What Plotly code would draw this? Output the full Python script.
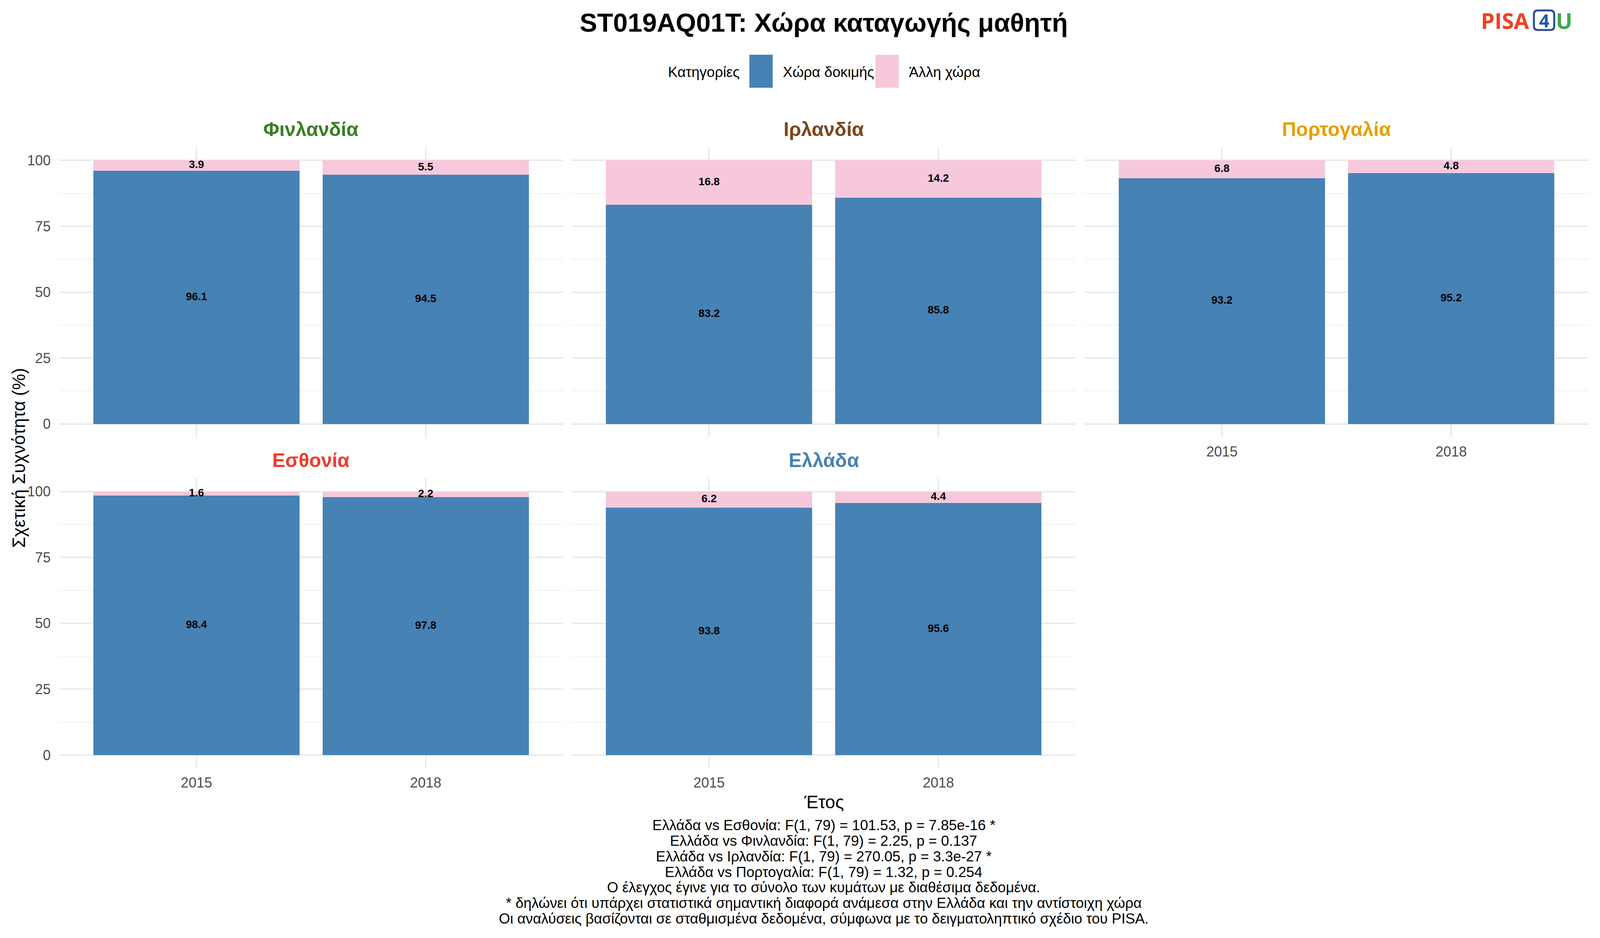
import plotly.graph_objects as go

# Data
countries = ["Φινλανδία", "Ιρλανδία", "Πορτογαλία", "Εσθονία", "Ελλάδα"]
country_colors = ["#377E22", "#7B4419", "#E69F00", "#EE3B2B", "#4682B4"]
years = ["2015", "2018"]
test_country = [[96.1, 94.5], [83.2, 85.8], [93.2, 95.2], [98.4, 97.8], [93.8, 95.6]]
other_country = [[3.9, 5.5], [16.8, 14.2], [6.8, 4.8], [1.6, 2.2], [6.2, 4.4]]
categories = ["Χώρα δοκιμής", "Άλλη χώρα"]
category_colors = ["#4682B4", "#F7C8DC"]
y_ticks = [0, 25, 50, 75, 100]
y_minor = [12.5, 37.5, 62.5, 87.5]

title = "ST019AQ01T: Χώρα καταγωγής μαθητή"
legend_title = "Κατηγορίες"
x_title = "Έτος"
y_title = "Σχετική Συχνότητα (%)"
caption_lines = [
    "Ελλάδα vs Εσθονία: F(1, 79) = 101.53, p = 7.85e-16 *",
    "Ελλάδα vs Φινλανδία: F(1, 79) = 2.25, p = 0.137",
    "Ελλάδα vs Ιρλανδία: F(1, 79) = 270.05, p = 3.3e-27 *",
    "Ελλάδα vs Πορτογαλία: F(1, 79) = 1.32, p = 0.254",
    "Ο έλεγχος έγινε για το σύνολο των κυμάτων με διαθέσιμα δεδομένα.",
    "* δηλώνει ότι υπάρχει στατιστικά σημαντική διαφορά ανάμεσα στην Ελλάδα και την αντίστοιχη χώρα",
    "Οι αναλύσεις βασίζονται σε σταθμισμένα δεδομένα, σύμφωνα με το δειγματοληπτικό σχέδιο του PISA.",
]

# layout is worked out on the 4500x2400 reference and turned into paper fractions,
# the figure width follows the browser window
W, H = 4500, 2400
FONT = "Liberation Sans, Arial, sans-serif"
LOGO_FONT = "Open Sans, sans-serif"


def px_x(v):
    return v / W


def px_y(v):
    return 1 - v / H


# panel geometry in reference pixels
col_px = [(157.5, 1581.5), (1605, 3029), (3053, 4477)]
row_px = [(371, 1118), (1224, 1971)]
panel_pos = [(0, 0), (0, 1), (0, 2), (1, 0), (1, 1)]

fig = go.Figure()
layout = dict()

for i, country in enumerate(countries):
    r, c = panel_pos[i]
    n = i + 1
    xa = "x" if n == 1 else f"x{n}"
    ya = "y" if n == 1 else f"y{n}"
    blue = test_country[i]
    pink = other_country[i]
    fig.add_trace(go.Bar(x=years, y=blue, marker_color=category_colors[0], width=0.9,
                         name=categories[0], showlegend=False, xaxis=xa, yaxis=ya,
                         marker_line_width=0, hoverinfo="y"))
    fig.add_trace(go.Bar(x=years, y=pink, marker_color=category_colors[1], width=0.9,
                         name=categories[1], showlegend=False, xaxis=xa, yaxis=ya,
                         marker_line_width=0, hoverinfo="y"))
    # labels centred in each segment
    label_y = [b / 2 for b in blue] + [b + p / 2 for b, p in zip(blue, pink)]
    label_t = [f"{b:.1f}" for b in blue] + [f"{p:.1f}" for p in pink]
    fig.add_trace(go.Scatter(x=years + years, y=label_y, text=label_t, mode="text",
                             textfont=dict(family=FONT, size=28, color="black", weight="bold"),
                             showlegend=False, xaxis=xa, yaxis=ya, hoverinfo="skip"))

    show_x = (r == 1) or (c == 2)
    show_y = (c == 0)
    x0, x1 = col_px[c]
    y0, y1 = row_px[r]
    layout["xaxis" if n == 1 else f"xaxis{n}"] = dict(
        domain=[px_x(x0), px_x(x1)], anchor=ya, type="category",
        categoryorder="array", categoryarray=years, range=[-0.6, 1.6],
        showgrid=True, gridcolor="#EBEBEB", gridwidth=3.5, zeroline=False,
        showline=False, ticks="", showticklabels=show_x, ticklabelstandoff=12,
        tickfont=dict(family=FONT, size=36, color="#4D4D4D"),
    )
    layout["yaxis" if n == 1 else f"yaxis{n}"] = dict(
        domain=[px_y(y1), px_y(y0)], anchor=xa, range=[-5, 105],
        tickvals=y_ticks, showgrid=True, gridcolor="#EBEBEB", gridwidth=3.5,
        zeroline=False, showline=False, ticks="", showticklabels=show_y,
        ticklabelstandoff=20,
        tickfont=dict(family=FONT, size=36, color="#4D4D4D"),
        minor=dict(tickvals=y_minor, showgrid=True, gridcolor="#F0F0F0", gridwidth=2),
    )

annotations = []
# strip titles
for i, country in enumerate(countries):
    r, c = panel_pos[i]
    annotations.append(dict(
        x=px_x(sum(col_px[c]) / 2), y=px_y(row_px[r][0] - 46), xref="paper", yref="paper",
        text=f"<b>{country}</b>", showarrow=False, xanchor="center", yanchor="middle",
        font=dict(family=FONT, size=50, color=country_colors[i]),
    ))

centre_x = px_x((col_px[0][0] + col_px[2][1]) / 2)

# title
annotations.append(dict(x=centre_x, y=px_y(50), xref="paper", yref="paper",
                        text=f"<b>{title}</b>", showarrow=False, xanchor="center",
                        yanchor="middle", font=dict(family=FONT, size=67, color="black")))
# axis titles
annotations.append(dict(x=centre_x, y=px_y(2058), xref="paper", yref="paper",
                        text=x_title, showarrow=False, xanchor="center", yanchor="middle",
                        font=dict(family=FONT, size=46, color="black")))
annotations.append(dict(x=px_x(44), y=px_y(1171), xref="paper", yref="paper",
                        text=y_title, showarrow=False, textangle=-90, xanchor="center",
                        yanchor="middle", font=dict(family=FONT, size=46, color="black")))
# caption
for k, line in enumerate(caption_lines):
    annotations.append(dict(x=centre_x, y=px_y(2118 + 40 * k), xref="paper", yref="paper",
                            text=line, showarrow=False, xanchor="center", yanchor="middle",
                            font=dict(family=FONT, size=37, color="black")))

# legend (drawn by hand so the keys can be ggplot sized)
shapes = []
annotations.append(dict(x=px_x(2081), y=px_y(178), xref="paper", yref="paper",
                        text=legend_title, showarrow=False, xanchor="right", yanchor="middle",
                        font=dict(family=FONT, size=37, color="black")))
key_x = [2107, 2463]
for k, cat in enumerate(categories):
    shapes.append(dict(type="rect", xref="paper", yref="paper",
                       x0=px_x(key_x[k]), x1=px_x(key_x[k] + 66),
                       y0=px_y(218), y1=px_y(133),
                       fillcolor=category_colors[k], line=dict(width=0)))
    annotations.append(dict(x=px_x(key_x[k] + 92), y=px_y(178), xref="paper", yref="paper",
                            text=cat, showarrow=False, xanchor="left", yanchor="middle",
                            font=dict(family=FONT, size=37, color="black")))

# PISA4U logo, pinned near the top right corner in pixels
logo_x = 0.985
logo_y = px_y(44)
annotations.append(dict(x=logo_x, y=logo_y, xref="paper", yref="paper", xshift=-110,
                        text="<b>PISA</b>", showarrow=False, xanchor="right", yanchor="middle",
                        font=dict(family=LOGO_FONT, size=56, color="#EF4123")))
annotations.append(dict(x=logo_x, y=logo_y, xref="paper", yref="paper", xshift=-74,
                        text="<b>4</b>", showarrow=False, xanchor="center", yanchor="middle",
                        font=dict(family=LOGO_FONT, size=46, color="#1F5AA6")))
annotations.append(dict(x=logo_x, y=logo_y, xref="paper", yref="paper",
                        text="<b>U</b>", showarrow=False, xanchor="right", yanchor="middle",
                        font=dict(family=LOGO_FONT, size=56, color="#3DAA49")))
bx0, bx1, by0, by1, rr = -100, -48, -25, 25, 10
box_path = (f"M{bx0 + rr},{by0} L{bx1 - rr},{by0} Q{bx1},{by0} {bx1},{by0 + rr} "
            f"L{bx1},{by1 - rr} Q{bx1},{by1} {bx1 - rr},{by1} L{bx0 + rr},{by1} "
            f"Q{bx0},{by1} {bx0},{by1 - rr} L{bx0},{by0 + rr} Q{bx0},{by0} {bx0 + rr},{by0} Z")
shapes.append(dict(type="path", xref="paper", yref="paper", xsizemode="pixel",
                   ysizemode="pixel", xanchor=logo_x, yanchor=logo_y, path=box_path,
                   line=dict(color="#2A4B9B", width=5), fillcolor="rgba(0,0,0,0)"))

fig.update_layout(
    **layout,
    barmode="stack",
    bargap=0.1,
    height=2384,
    autosize=True,
    margin=dict(l=0, r=0, t=0, b=0),
    paper_bgcolor="white",
    plot_bgcolor="white",
    showlegend=False,
    annotations=annotations,
    shapes=shapes,
    font=dict(family=FONT),
)

fig.write_html("out.html")
